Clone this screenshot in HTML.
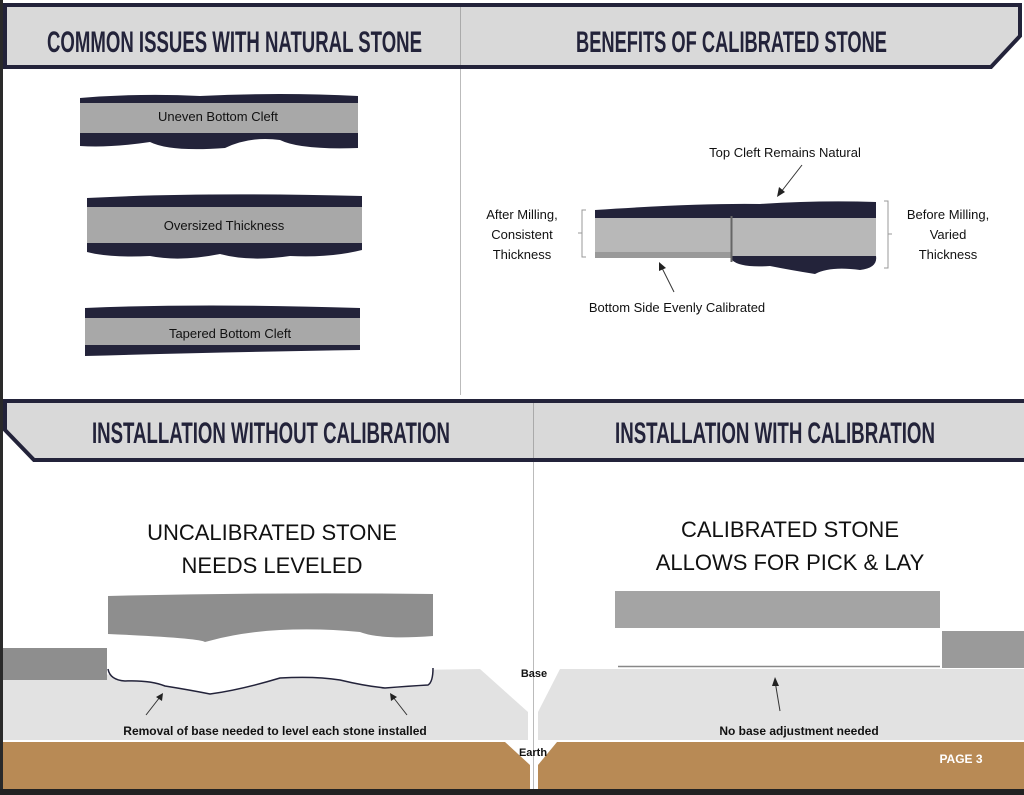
<!DOCTYPE html>
<html><head><meta charset="utf-8"><style>
html,body{margin:0;padding:0;background:#fff;}
svg{display:block;}
.h{font-family:"Liberation Sans",sans-serif;font-weight:bold;fill:#23233a;}
.c{font-family:"Liberation Sans",sans-serif;fill:#111;}
</style></head><body>
<svg width="1024" height="795" viewBox="0 0 1024 795" xmlns="http://www.w3.org/2000/svg">
<rect x="0" y="0" width="3" height="795" fill="#2a2a2a"/>
<line x1="460.5" y1="68" x2="460.5" y2="395" stroke="#bbb"/>
<line x1="533.5" y1="460" x2="533.5" y2="790" stroke="#bbb"/>
<!-- top header -->
<path d="M5,5 H1020 V36 L991,67 H5 Z" fill="#d9d9d9" stroke="#23233a" stroke-width="4"/>
<line x1="460.5" y1="7" x2="460.5" y2="65" stroke="#aaa"/>
<text class="h" x="47" y="52" font-size="30" textLength="375" lengthAdjust="spacingAndGlyphs">COMMON ISSUES WITH NATURAL STONE</text>
<text class="h" x="576" y="52" font-size="30" textLength="311" lengthAdjust="spacingAndGlyphs">BENEFITS OF CALIBRATED STONE</text>
<!-- second header -->
<path d="M5,401 H1026 V460 H34 L5,430 Z" fill="#d9d9d9" stroke="#23233a" stroke-width="4"/>
<line x1="533.5" y1="403" x2="533.5" y2="458" stroke="#aaa"/>
<text class="h" x="92" y="443" font-size="30" textLength="358" lengthAdjust="spacingAndGlyphs">INSTALLATION WITHOUT CALIBRATION</text>
<text class="h" x="615" y="443" font-size="30" textLength="320" lengthAdjust="spacingAndGlyphs">INSTALLATION WITH CALIBRATION</text>

<!-- stone 1 -->
<path d="M80,98 Q140,93 200,96 Q280,92 358,96 V148 Q300,150 280,140 Q250,136 225,148 Q170,152 150,142 Q110,148 80,146 Z" fill="#23233a"/>
<rect x="80" y="103" width="278" height="30" fill="#a8a8a8"/>
<text class="c" x="218" y="121" font-size="13" text-anchor="middle">Uneven Bottom Cleft</text>
<!-- stone 2 -->
<path d="M87,198 Q200,192 362,196 V250 Q330,258 290,256 Q250,262 220,254 Q180,262 150,256 Q110,258 87,252 Z" fill="#23233a"/>
<rect x="87" y="207" width="275" height="36" fill="#a8a8a8"/>
<text class="c" x="224" y="230" font-size="13" text-anchor="middle">Oversized Thickness</text>
<!-- stone 3 -->
<path d="M85,308 Q200,303 360,308 V350 Q230,352 85,356 Z" fill="#23233a"/>
<rect x="85" y="318" width="275" height="27" fill="#a8a8a8"/>
<text class="c" x="230" y="338" font-size="13" text-anchor="middle">Tapered Bottom Cleft</text>

<!-- calibrated diagram -->
<text class="c" x="785" y="157" font-size="13" text-anchor="middle">Top Cleft Remains Natural</text>
<line x1="802" y1="165" x2="781" y2="192" stroke="#333"/>
<path d="M777,197 L779,187 L785,192 Z" fill="#222"/>
<path d="M595,210 Q700,203 760,204 Q820,200 876,202 V257 L595,257 Z" fill="#23233a"/>
<path d="M732,256 H876 Q878,268 860,270 Q830,266 815,274 Q790,270 770,266 Q740,268 732,260 Z" fill="#23233a"/>
<rect x="595" y="218" width="281" height="38" fill="#b8b8b8"/>
<rect x="595" y="252" width="137" height="6" fill="#999"/>
<line x1="731.5" y1="216" x2="731.5" y2="262" stroke="#666" stroke-width="2"/>
<path d="M586,210 H582 V257 H586 M582,233 H578" fill="none" stroke="#999"/>
<path d="M884,201 H888 V268 H884 M888,234 H892" fill="none" stroke="#999"/>
<text class="c" x="522" y="219" font-size="13" text-anchor="middle">After Milling,</text>
<text class="c" x="522" y="239" font-size="13" text-anchor="middle">Consistent</text>
<text class="c" x="522" y="259" font-size="13" text-anchor="middle">Thickness</text>
<text class="c" x="948" y="219" font-size="13" text-anchor="middle">Before Milling,</text>
<text class="c" x="948" y="239" font-size="13" text-anchor="middle">Varied</text>
<text class="c" x="948" y="259" font-size="13" text-anchor="middle">Thickness</text>
<line x1="674" y1="292" x2="662" y2="268" stroke="#333"/>
<path d="M659,262 L666,268 L659,271 Z" fill="#222"/>
<text class="c" x="677" y="312" font-size="13" text-anchor="middle">Bottom Side Evenly Calibrated</text>

<!-- bottom titles -->
<text class="c" x="272" y="540" font-size="22" text-anchor="middle" fill="#222">UNCALIBRATED STONE</text>
<text class="c" x="272" y="573" font-size="22" text-anchor="middle" fill="#222">NEEDS LEVELED</text>
<text class="c" x="790" y="537" font-size="22" text-anchor="middle" fill="#222">CALIBRATED STONE</text>
<text class="c" x="790" y="570" font-size="22" text-anchor="middle" fill="#222">ALLOWS FOR PICK &amp; LAY</text>

<!-- base & earth -->
<path d="M3,676 L480,669 L528,712 V740 H3 Z" fill="#e2e2e2"/>
<path d="M560,669 H1024 V740 H538 V712 Z" fill="#e2e2e2"/>
<path d="M3,742 H505 L530,765 V790 H3 Z" fill="#b88a55"/>
<path d="M557,742 H1024 V790 H538 V765 Z" fill="#b88a55"/>
<rect x="0" y="789" width="1024" height="6" fill="#222"/>

<!-- left stones -->
<rect x="3" y="648" width="104" height="32" fill="#8e8e8e"/>
<path d="M108,596 Q270,592 433,594 V636 Q380,640 360,632 Q320,628 280,630 Q240,632 205,642 Q200,638 108,634 Z" fill="#8e8e8e"/>
<path d="M108,660 H433 V668 Q433,682 428,685 Q410,686 385,688 Q365,686 340,680 Q315,676 280,678 Q240,690 210,694 Q190,690 165,686 Q150,680 125,681 Q110,680 108,669 Z" fill="#fff"/>
<path d="M108,669 Q110,680 125,681 Q150,680 165,686 Q190,690 210,694 Q240,690 280,678 Q315,676 340,680 Q365,686 385,688 Q410,686 428,685 Q433,682 433,668" fill="none" stroke="#23233a" stroke-width="1.5"/>
<line x1="146" y1="715" x2="160" y2="697" stroke="#333"/>
<path d="M163,693 L162,701 L156,697 Z" fill="#222"/>
<line x1="407" y1="715" x2="393" y2="697" stroke="#333"/>
<path d="M390,693 L397,697 L391,701 Z" fill="#222"/>
<text class="c" x="275" y="735" font-size="12" font-weight="bold" text-anchor="middle">Removal of base needed to level each stone installed</text>

<!-- right stones -->
<rect x="615" y="591" width="325" height="37" fill="#a4a4a4"/>
<rect x="942" y="631" width="82" height="37" fill="#9a9a9a"/>
<line x1="618" y1="666.5" x2="940" y2="666.5" stroke="#888" stroke-width="1.5"/>
<line x1="780" y1="711" x2="775" y2="681" stroke="#333"/>
<path d="M775,677 L779,686 L772,686 Z" fill="#222"/>
<text class="c" x="799" y="735" font-size="12" font-weight="bold" text-anchor="middle">No base adjustment needed</text>

<text class="c" x="534" y="677" font-size="11" font-weight="bold" text-anchor="middle">Base</text>
<text class="c" x="533" y="756" font-size="11" font-weight="bold" text-anchor="middle">Earth</text>
<text x="961" y="763" font-size="12" font-weight="bold" text-anchor="middle" fill="#fff" font-family="Liberation Sans,sans-serif">PAGE 3</text>
</svg>
</body></html>
